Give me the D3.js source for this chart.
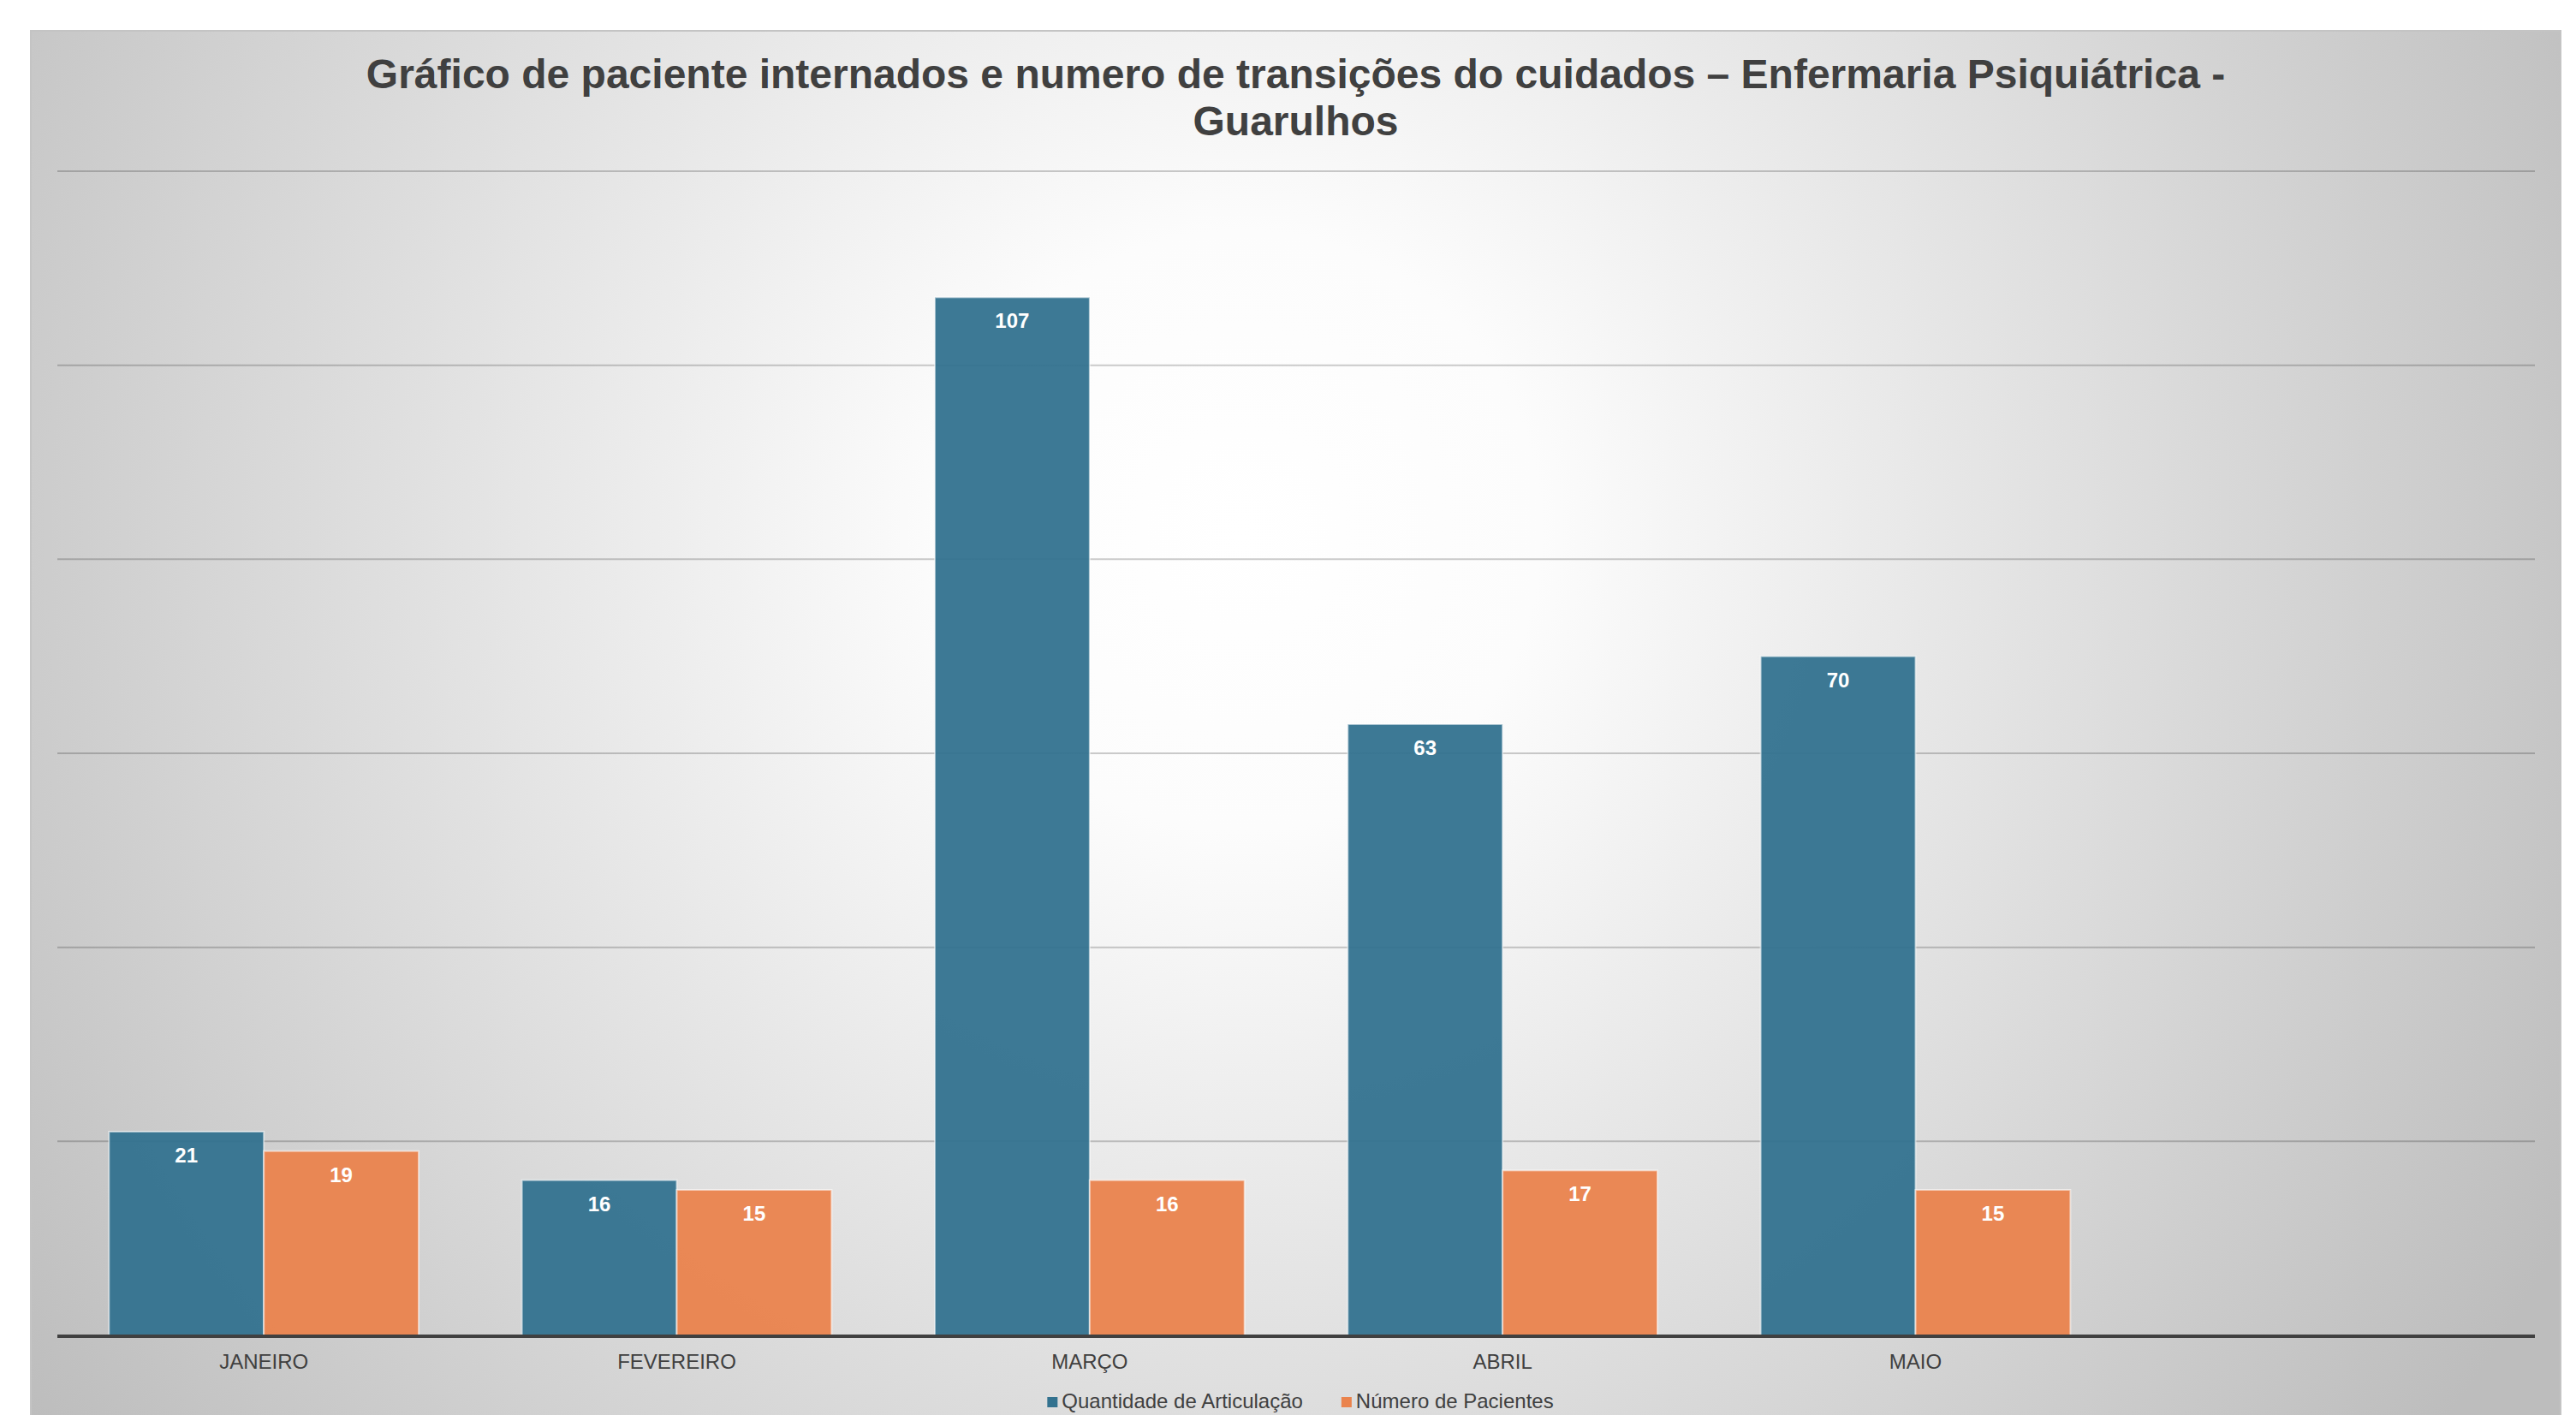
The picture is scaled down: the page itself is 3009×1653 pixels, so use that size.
<!DOCTYPE html>
<html>
<head>
<meta charset="utf-8">
<script src="https://cdn.jsdelivr.net/npm/d3@7"></script>
<style>
    body { margin: 0; background: #ffffff; }
    svg { display: block; font-family: "Liberation Sans", Arial, sans-serif; }
</style>
</head>
<body>
<div id="chart"></div>
<script>
// months on the x axis (last slot is empty in the original sheet)
const MONTHS = ["JANEIRO", "FEVEREIRO", "MARÇO", "ABRIL", "MAIO", ""];
const SERIES = ["Quantidade de Articulação", "Número de Pacientes"];
const ARTICULACAO = [21, 16, 107, 63, 70];
const PACIENTES = [19, 15, 16, 17, 15];
const Y_TICKS = [0, 20, 40, 60, 80, 100, 120];
const TITLE_LINES = [
    "Gráfico de paciente internados e numero de transições do cuidados – Enfermaria Psiquiátrica -",
    "Guarulhos"
];

const SERIES_COLOR = ["#33728f", "#ea834d"];

const drawChart = () => {
    const width = 3009;
    const height = 1653;
    const panel = { x: 36, y: 36, w: 2955, h: 1700 };
    const plotLeft = 67;
    const plotRight = 2961;
    const plotTop = 200;
    const plotBottom = 1560;

    const svg = d3.select("#chart").append("svg")
        .attr("width", width)
        .attr("height", height);

    const defs = svg.append("defs");
    const grad = defs.append("radialGradient")
        .attr("id", "bg")
        .attr("gradientUnits", "userSpaceOnUse")
        .attr("cx", 1450).attr("cy", 620).attr("r", 1750);
    grad.append("stop").attr("offset", "0").attr("stop-color", "#ffffff");
    grad.append("stop").attr("offset", "0.2").attr("stop-color", "#fcfcfc");
    grad.append("stop").attr("offset", "1").attr("stop-color", "#bdbdbd");

    svg.append("rect")
        .attr("x", panel.x).attr("y", panel.y)
        .attr("width", panel.w).attr("height", panel.h)
        .attr("fill", "url(#bg)")
        .attr("stroke", "#c4c4c4")
        .attr("stroke-width", 2);

    // title
    svg.append("text")
        .attr("text-anchor", "middle")
        .attr("font-size", 48)
        .attr("font-weight", "bold")
        .attr("fill", "#404040")
        .selectAll("tspan")
        .data(TITLE_LINES)
        .join("tspan")
        .attr("x", panel.x + panel.w / 2)
        .attr("y", (d, i) => 103 + i * 55)
        .text(d => d);

    const x = d3.scaleBand()
        .domain(MONTHS.map((m, i) => i))
        .range([plotLeft, plotRight])
        .paddingInner(0.25)
        .paddingOuter(0.125);

    const xSeries = d3.scaleBand()
        .domain(SERIES)
        .range([0, x.bandwidth()]);

    const y = d3.scaleLinear()
        .domain([0, 120])
        .range([plotBottom, plotTop]);

    // gridlines
    svg.append("g")
        .selectAll("line")
        .data(Y_TICKS.filter(t => t > 0))
        .join("line")
        .attr("x1", plotLeft).attr("x2", plotRight)
        .attr("y1", d => y(d)).attr("y2", d => y(d))
        .attr("stroke", "#000")
        .attr("stroke-opacity", 0.2)
        .attr("stroke-width", 2);

    const rows = MONTHS.slice(0, ARTICULACAO.length).map((m, i) => ({
        i,
        values: [ARTICULACAO[i], PACIENTES[i]]
    }));

    const groups = svg.append("g")
        .selectAll("g")
        .data(rows)
        .join("g")
        .attr("transform", d => `translate(${x(d.i)},0)`);

    groups.selectAll("rect")
        .data(d => d.values.map((v, k) => ({ v, k })))
        .join("rect")
        .attr("x", d => xSeries(SERIES[d.k]))
        .attr("y", d => y(d.v))
        .attr("width", xSeries.bandwidth())
        .attr("height", d => y(0) - y(d.v))
        .attr("fill", d => SERIES_COLOR[d.k])
        .attr("fill-opacity", 0.95)
        .attr("stroke", "#ffffff")
        .attr("stroke-opacity", 0.55)
        .attr("stroke-width", 2);

    groups.selectAll("text")
        .data(d => d.values.map((v, k) => ({ v, k })))
        .join("text")
        .attr("x", d => xSeries(SERIES[d.k]) + xSeries.bandwidth() / 2)
        .attr("y", d => y(d.v) + 36)
        .attr("text-anchor", "middle")
        .attr("font-size", 24)
        .attr("font-weight", "bold")
        .attr("fill", "#ffffff")
        .text(d => d.v);

    // baseline
    svg.append("line")
        .attr("x1", plotLeft).attr("x2", plotRight)
        .attr("y1", y(0) + 1).attr("y2", y(0) + 1)
        .attr("stroke", "#404040")
        .attr("stroke-width", 4);

    // month labels
    svg.append("g")
        .selectAll("text")
        .data(MONTHS)
        .join("text")
        .attr("x", (d, i) => x(i) + x.bandwidth() / 2)
        .attr("y", 1599)
        .attr("text-anchor", "middle")
        .attr("font-size", 24)
        .attr("fill", "#404040")
        .text(d => d);

    // legend
    const legend = svg.append("g");
    let cursor = 0;
    SERIES.forEach((s, k) => {
        const item = legend.append("g").attr("transform", `translate(${cursor},0)`);
        item.append("rect")
            .attr("x", 0).attr("y", -13)
            .attr("width", 12).attr("height", 12)
            .attr("fill", SERIES_COLOR[k]);
        const t = item.append("text")
            .attr("x", 17).attr("y", 0)
            .attr("font-size", 24)
            .attr("fill", "#404040")
            .text(s);
        cursor += 17 + t.node().getComputedTextLength() + 45;
    });
    const legendWidth = cursor - 45;
    legend.attr("transform", `translate(${1519 - legendWidth / 2},1645)`);
};

window.addEventListener("DOMContentLoaded", () => {
    drawChart();
}, { once: true });
</script>
</body>
</html>
